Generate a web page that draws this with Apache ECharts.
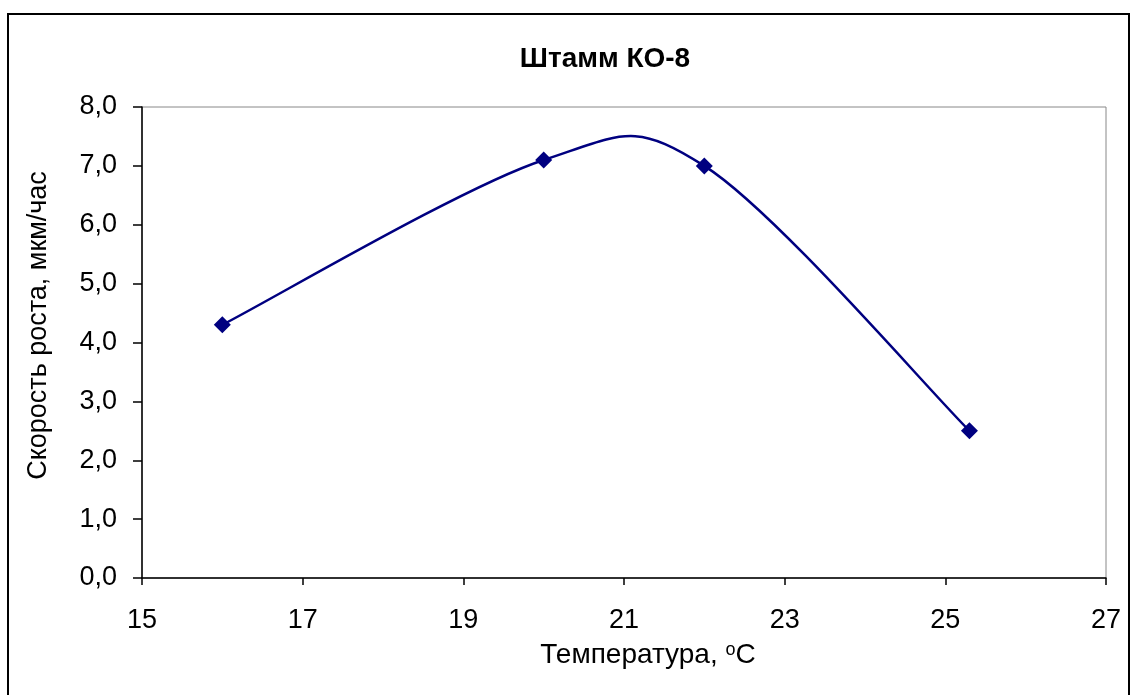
<!DOCTYPE html>
<html><head><meta charset="utf-8">
<script src="https://cdn.jsdelivr.net/npm/echarts@6/dist/echarts.min.js"></script>
<style>html,body{margin:0;padding:0;background:#fff}#c{width:1139px;height:695px}</style>
</head><body><div id="c"></div>
<script>
const temperatures = [16, 20, 22, 25.3];
const growthRates = [4.3, 7.1, 7.0, 2.5];
const titleText = 'Штамм КО-8';
const xName = 'Температура, {s|o}C';
const yName = 'Скорость роста, мкм/час';

const chart = echarts.init(document.getElementById('c'));
const font = 'Arial, "Liberation Sans", sans-serif';
const pts = temperatures.map((t, i) => [t, growthRates[i]]);

// Excel-like smoothed line (Catmull-Rom Bezier segments in pixel space)
function renderSmooth(params, api) {
  if (params.dataIndex !== 0) return null;
  const P = pts.map(p => api.coord(p));
  const n = P.length, children = [];
  for (let i = 0; i < n - 1; i++) {
    const p0 = P[Math.max(i - 1, 0)], p1 = P[i], p2 = P[i + 1], p3 = P[Math.min(i + 2, n - 1)];
    children.push({type: 'bezierCurve', shape: {
      x1: p1[0], y1: p1[1], x2: p2[0], y2: p2[1],
      cpx1: p1[0] + (p2[0] - p0[0]) / 6, cpy1: p1[1] + (p2[1] - p0[1]) / 6,
      cpx2: p2[0] - (p3[0] - p1[0]) / 6, cpy2: p2[1] - (p3[1] - p1[1]) / 6},
      style: {stroke: '#000080', lineWidth: 2.5, fill: null}});
  }
  return {type: 'group', children};
}

chart.setOption({
  animation: false,
  backgroundColor: '#fff',
  graphic: [{type:'rect', shape:{x:8,y:14,width:1121,height:700}, style:{fill:'none', stroke:'#000', lineWidth:2}, silent:true}],
  title: {text: titleText, left: 600, top: 40, textAlign: 'center',
    textStyle:{fontFamily: font, fontSize: 28, fontWeight:'bold', color:'#000'}},
  grid: {left: 142, top: 107, width: 964, height: 471, show: true, borderColor: '#888', borderWidth: 1},
  xAxis: {type:'value', min:15, max:27, interval:2,
    name: xName, nameLocation:'middle', nameGap: 63,
    nameTextStyle:{fontFamily:font, fontSize:28, color:'#000', padding:[0,0,0,48],
      rich:{s:{fontSize:18, verticalAlign:'top', padding:[0,0,10,0], fontFamily:font, color:'#000'}}},
    axisLine:{lineStyle:{color:'#000', width:1.5}},
    axisTick:{show:true, inside:false, length:7, lineStyle:{color:'#000', width:1.5}},
    axisLabel:{fontFamily:font, fontSize:27, color:'#000', margin:29},
    splitLine:{show:false}},
  yAxis: {type:'value', min:0, max:8, interval:1,
    name: yName, nameLocation:'middle', nameGap: 90, nameRotate: 90,
    nameTextStyle:{fontFamily:font, fontSize:27, color:'#000', padding:[0,0,0,34]},
    axisLine:{show:true, lineStyle:{color:'#000', width:1.5}},
    axisTick:{show:true, inside:false, length:9, lineStyle:{color:'#000', width:1.5}},
    axisLabel:{fontFamily:font, fontSize:27, color:'#000', margin:25,
      formatter: v => v.toFixed(1).replace('.', ',')},
    splitLine:{show:false}},
  series: [
    {type:'custom', renderItem: renderSmooth, data: pts, z: 2},
    {type:'scatter', data: pts, symbol:'diamond', symbolSize:17, z: 3,
      itemStyle:{color:'#000080', opacity:1}}
  ]
});
</script></body></html>
